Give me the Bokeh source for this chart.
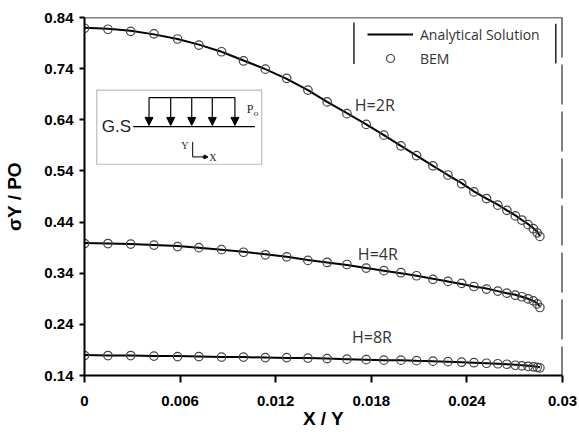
from bokeh.plotting import figure
from bokeh.models import (Range1d, FixedTicker, Label, Span, Arrow, NormalHead,
                          BoxAnnotation, Legend, LegendItem, ColumnDataSource)
from bokeh.embed import file_html
from bokeh.resources import INLINE

# ---------------- data ----------------
x_ratio = [0, 0.00147, 0.00290, 0.00436, 0.00584, 0.00718, 0.00860, 0.00998,
           0.01135, 0.01269, 0.01402, 0.01523, 0.01647, 0.01768, 0.01879,
           0.01986, 0.02084, 0.02187, 0.02281, 0.02367, 0.02444, 0.02523,
           0.02594, 0.02651, 0.02704, 0.02745, 0.02784, 0.02817, 0.02841, 0.02858]

h2r_bem = [0.819, 0.817, 0.813, 0.808, 0.798, 0.786, 0.773, 0.755, 0.739, 0.721,
           0.698, 0.675, 0.652, 0.631, 0.610, 0.589, 0.570, 0.550, 0.532, 0.515,
           0.499, 0.486, 0.473, 0.463, 0.452, 0.444, 0.435, 0.427, 0.419, 0.412]
h4r_bem = [0.398, 0.398, 0.397, 0.395, 0.392, 0.390, 0.386, 0.381, 0.376, 0.372,
           0.365, 0.361, 0.357, 0.350, 0.345, 0.341, 0.335, 0.328, 0.324, 0.320,
           0.314, 0.309, 0.305, 0.301, 0.297, 0.294, 0.290, 0.286, 0.280, 0.273]
h8r_bem = [0.179, 0.179, 0.179, 0.178, 0.177, 0.177, 0.176, 0.176, 0.175, 0.175,
           0.174, 0.173, 0.172, 0.171, 0.170, 0.170, 0.169, 0.168, 0.167, 0.166,
           0.165, 0.164, 0.163, 0.162, 0.160, 0.159, 0.158, 0.157, 0.156, 0.155]

h2r_analytical = [0.820, 0.818, 0.814, 0.807, 0.798, 0.787, 0.773, 0.756, 0.739, 0.720,
                  0.698, 0.675, 0.653, 0.631, 0.610, 0.589, 0.570, 0.550, 0.532, 0.516,
                  0.500, 0.486, 0.474, 0.463, 0.453, 0.444, 0.436, 0.428, 0.421, 0.413]
h4r_analytical = [0.399, 0.398, 0.397, 0.395, 0.393, 0.390, 0.386, 0.382, 0.377, 0.372,
                  0.366, 0.361, 0.356, 0.350, 0.345, 0.340, 0.335, 0.329, 0.324, 0.319,
                  0.314, 0.310, 0.305, 0.301, 0.298, 0.294, 0.290, 0.286, 0.281, 0.275]
h8r_analytical = [0.180, 0.179, 0.179, 0.178, 0.178, 0.177, 0.176, 0.176, 0.175, 0.174,
                  0.174, 0.173, 0.172, 0.171, 0.170, 0.170, 0.169, 0.168, 0.167, 0.166,
                  0.165, 0.164, 0.163, 0.162, 0.161, 0.160, 0.159, 0.158, 0.157, 0.156]

curve_labels = ["H=2R", "H=4R", "H=8R"]
curve_label_x = [0.01822, 0.01841, 0.01804]
curve_label_y = [0.669, 0.378, 0.215]

x_ticks = [0, 0.006, 0.012, 0.018, 0.024, 0.03]
x_tick_labels = ["0", "0.006", "0.012", "0.018", "0.024", "0.03"]
y_ticks = [0.14, 0.24, 0.34, 0.44, 0.54, 0.64, 0.74, 0.84]
y_tick_labels = ["0.14", "0.24", "0.34", "0.44", "0.54", "0.64", "0.74", "0.84"]

x_title = "X / Y"
y_title = "σY / PO"

# ---------------- figure ----------------
p = figure(width=579, height=432, x_range=Range1d(0, 0.03), y_range=Range1d(0.14, 0.84),
           output_backend="svg", toolbar_location=None,
           min_border_left=84, min_border_right=17, min_border_top=17, min_border_bottom=57)
p.grid.visible = False
p.outline_line_color = None
p.background_fill_color = "white"
p.border_fill_color = "white"

tick_font = "Liberation Sans"
for ax in (p.xaxis[0], p.yaxis[0]):
    ax.axis_line_color = "black"
    ax.axis_line_width = 2
    ax.major_tick_line_color = "black"
    ax.major_tick_line_width = 2
    ax.minor_tick_line_color = None
    ax.major_tick_in = 0
    ax.major_label_text_font = tick_font
    ax.major_label_text_font_style = "bold"
    ax.major_label_text_font_size = "15px"
    ax.major_label_text_color = "black"
    ax.axis_label_text_font = tick_font
    ax.axis_label_text_font_style = "bold"
    ax.axis_label_text_font_size = "19px"
    ax.axis_label_text_color = "black"

p.xaxis.ticker = FixedTicker(ticks=x_ticks)
p.xaxis.major_label_overrides = dict(zip(x_ticks, x_tick_labels))
p.xaxis.major_tick_out = 7
p.xaxis.major_label_standoff = 13
p.xaxis.axis_label = x_title
p.xaxis.axis_label_standoff = -1

p.yaxis.ticker = FixedTicker(ticks=y_ticks)
p.yaxis.major_label_overrides = dict(zip(y_ticks, y_tick_labels))
p.yaxis.major_tick_out = 5
p.yaxis.major_label_standoff = 6
p.yaxis.axis_label = y_title
p.yaxis.axis_label_standoff = 16

# frame border: solid top, broken right
p.add_layout(Span(location=0.84, dimension="width", line_color="black", line_width=1.5))
p.add_layout(Span(location=0.03, dimension="height", line_color="black", line_width=2,
                  line_dash="40 7"))

# ---------------- curves ----------------
line_renderers = []
bem_renderers = []
for yb, ya in ((h2r_bem, h2r_analytical), (h4r_bem, h4r_analytical), (h8r_bem, h8r_analytical)):
    lr = p.line(x_ratio, ya, line_color="black", line_width=2)
    sr = p.scatter(x_ratio, yb, marker="circle", size=8.5, fill_color=None,
                   line_color="#444444", line_width=1.2)
    line_renderers.append(lr)
    bem_renderers.append(sr)

for t, lx, ly in zip(curve_labels, curve_label_x, curve_label_y):
    p.add_layout(Label(x=lx, y=ly, text=t, text_align="center", text_baseline="middle",
                       text_font="Open Sans", text_font_size="16px", text_color="#333333"))

# ---------------- legend ----------------
legend = Legend(items=[LegendItem(label="Analytical Solution", renderers=[line_renderers[0]]),
                       LegendItem(label="BEM", renderers=[bem_renderers[0]])],
                location=(283, 307), glyph_width=46, glyph_height=20, label_height=20,
                label_standoff=7, spacing=4, padding=0, margin=0,
                label_text_font="Open Sans", label_text_font_size="14px",
                label_text_color="#333333", border_line_color=None,
                background_fill_alpha=0)
p.add_layout(legend)
p.segment(x0=[0.01691, 0.02958], y0=[0.749, 0.750], x1=[0.01691, 0.02958], y1=[0.830, 0.828],
          line_color="black", line_width=1.3)

# ---------------- inset sketch (G.S with uniform load) ----------------
p.add_layout(BoxAnnotation(left=0.00077, right=0.01112, bottom=0.5531, top=0.6979,
                           fill_alpha=0, line_color="#222222", line_width=1.2))
p.segment(x0=[0.00306, 0.00405], y0=[0.6267, 0.6834], x1=[0.0107, 0.00944], y1=[0.6267, 0.6834],
          line_color="black", line_width=1.3)
load_x = [0.00405, 0.00541, 0.00673, 0.00802, 0.00944]
arrows = ColumnDataSource(dict(x0=load_x, y0=[0.6834] * 5, x1=load_x, y1=[0.629] * 5))
p.add_layout(Arrow(source=arrows, x_start="x0", y_start="y0", x_end="x1", y_end="y1",
                   line_color="black", line_width=1.2,
                   end=NormalHead(size=8, fill_color="black", line_color="black")))
p.add_layout(Label(x=0.00292, y=0.6275, text="G.S", text_align="right", text_baseline="middle",
                   text_font="Liberation Sans", text_font_size="17px", text_color="#222222"))
p.add_layout(Label(x=0.01018, y=0.6620, text="P", text_align="left", text_baseline="middle",
                   text_font="Liberation Serif", text_font_size="12px", text_color="#222222"))
p.add_layout(Label(x=0.01063, y=0.6540, text="o", text_align="left", text_baseline="middle",
                   text_font="Liberation Serif", text_font_style="italic",
                   text_font_size="9px", text_color="#222222"))
# small Y / X axes symbol
p.segment(x0=[0.00679, 0.00679], y0=[0.5968, 0.5674], x1=[0.00679, 0.00760], y1=[0.5674, 0.5674],
          line_color="black", line_width=1)
p.add_layout(Arrow(x_start=0.00740, y_start=0.5674, x_end=0.00775, y_end=0.5674, line_width=1,
                   end=NormalHead(size=4, fill_color="black", line_color="black")))
p.add_layout(Label(x=0.00630, y=0.5890, text="Y", text_align="center", text_baseline="middle",
                   text_font="Liberation Serif", text_font_size="10px", text_color="#222222"))
p.add_layout(Label(x=0.00806, y=0.5654, text="X", text_align="center", text_baseline="middle",
                   text_font="Liberation Serif", text_font_size="10px", text_color="#222222"))

open("out.html", "w").write(file_html(p, INLINE))
